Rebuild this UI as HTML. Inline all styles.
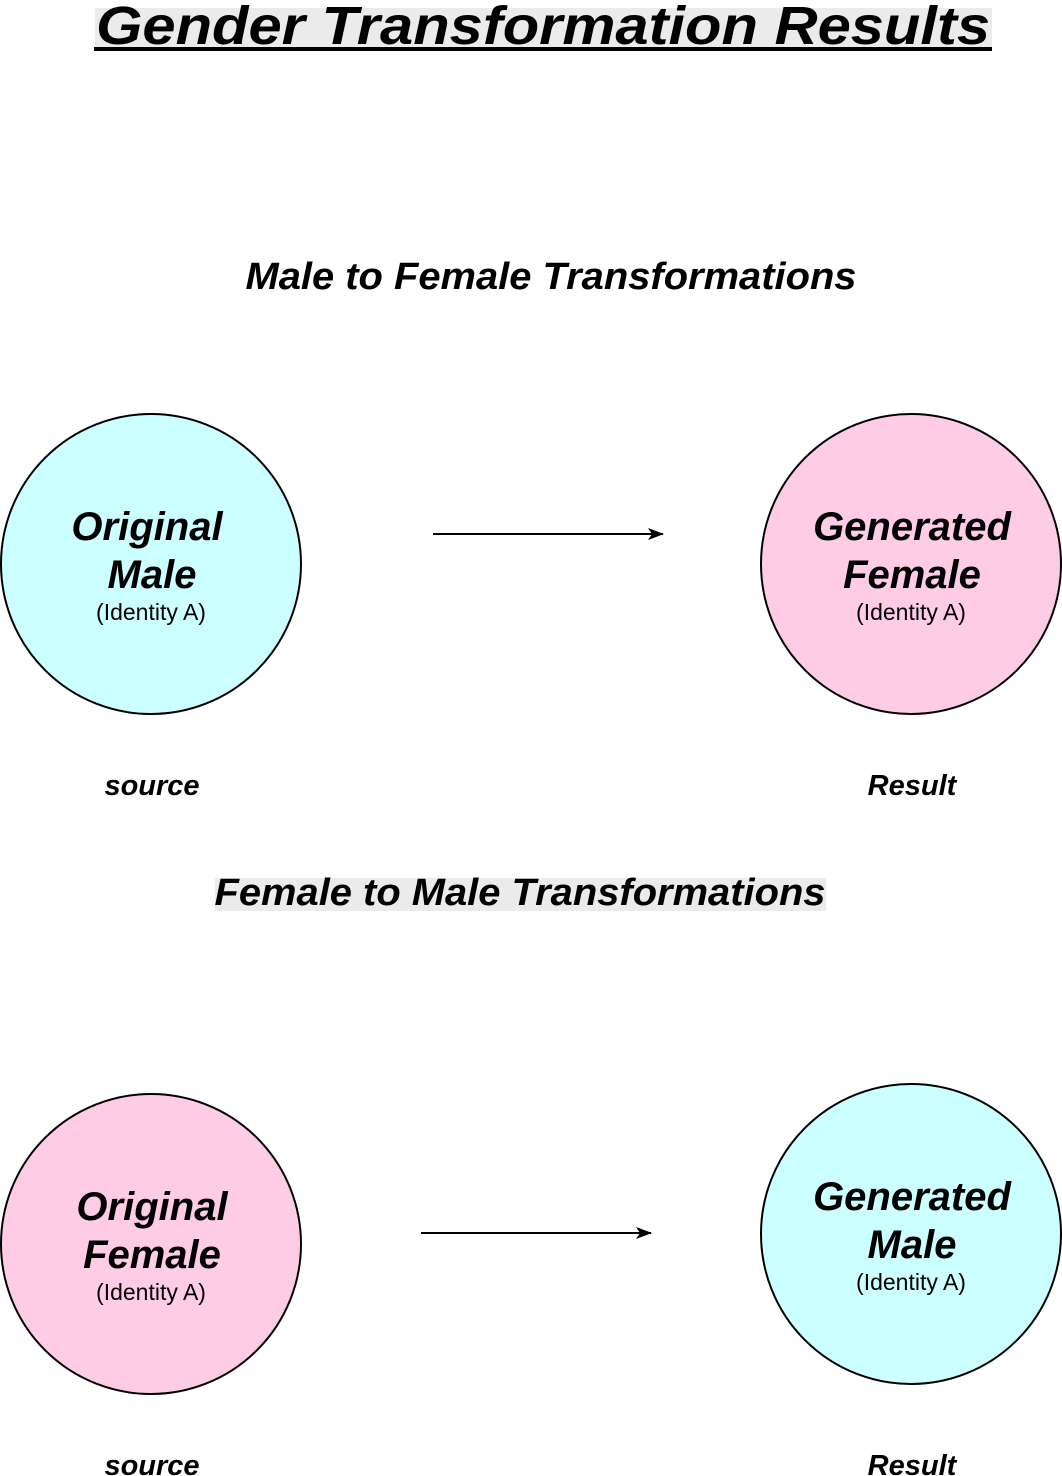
<!DOCTYPE html>
<html><head><meta charset="utf-8"><style>
html,body{margin:0;padding:0;background:#fff;}
svg{display:block;}
text{font-family:"Liberation Sans",Arial,sans-serif;font-weight:bold;font-style:italic;fill:#000;}
.id{font-weight:normal;font-style:normal;font-size:23px;}
.big{font-size:40px;}
.lab{font-size:29px;}
</style></head><body>
<svg width="1062" height="1476" viewBox="0 0 1062 1476" xmlns="http://www.w3.org/2000/svg">
<defs><marker id="ah" markerWidth="16" markerHeight="12" refX="15" refY="6" orient="auto" markerUnits="userSpaceOnUse"><path d="M0,0 L16,6 L0,12 L4,6 Z" fill="#000"/></marker></defs>
<rect x="95" y="8" width="897" height="40" fill="#ebebeb"/>
<text x="96" y="44" font-size="54" textLength="894" lengthAdjust="spacingAndGlyphs">Gender Transformation Results</text>
<rect x="94" y="47" width="898" height="4" fill="#000"/>

<text x="551" y="289" font-size="38" text-anchor="middle" textLength="611" lengthAdjust="spacingAndGlyphs">Male to Female Transformations</text>

<circle cx="151" cy="564" r="150" fill="#ccffff" stroke="#000" stroke-width="2"/>
<text class="big" x="147" y="540" text-anchor="middle">Original</text>
<text class="big" x="152" y="588" text-anchor="middle">Male</text>
<text class="id" x="151" y="620" text-anchor="middle">(Identity A)</text>

<line x1="433" y1="534" x2="663" y2="534" stroke="#000" stroke-width="2" marker-end="url(#ah)"/>

<circle cx="911" cy="564" r="150" fill="#ffcce6" stroke="#000" stroke-width="2"/>
<text class="big" x="912" y="540" text-anchor="middle">Generated</text>
<text class="big" x="912" y="588" text-anchor="middle">Female</text>
<text class="id" x="911" y="620" text-anchor="middle">(Identity A)</text>

<text class="lab" x="152" y="795" text-anchor="middle">source</text>
<text class="lab" x="912" y="795" text-anchor="middle">Result</text>

<rect x="215" y="878" width="611" height="33" fill="#ebebeb"/>
<text x="520" y="905" font-size="38" text-anchor="middle" textLength="611" lengthAdjust="spacingAndGlyphs">Female to Male Transformations</text>

<circle cx="151" cy="1244" r="150" fill="#ffcce6" stroke="#000" stroke-width="2"/>
<text class="big" x="152" y="1220" text-anchor="middle">Original</text>
<text class="big" x="152" y="1268" text-anchor="middle">Female</text>
<text class="id" x="151" y="1300" text-anchor="middle">(Identity A)</text>

<line x1="421" y1="1233" x2="651" y2="1233" stroke="#000" stroke-width="2" marker-end="url(#ah)"/>

<circle cx="911" cy="1234" r="150" fill="#ccffff" stroke="#000" stroke-width="2"/>
<text class="big" x="912" y="1210" text-anchor="middle">Generated</text>
<text class="big" x="912" y="1258" text-anchor="middle">Male</text>
<text class="id" x="911" y="1290" text-anchor="middle">(Identity A)</text>

<text class="lab" x="152" y="1475" text-anchor="middle">source</text>
<text class="lab" x="912" y="1475" text-anchor="middle">Result</text>
</svg>
</body></html>
